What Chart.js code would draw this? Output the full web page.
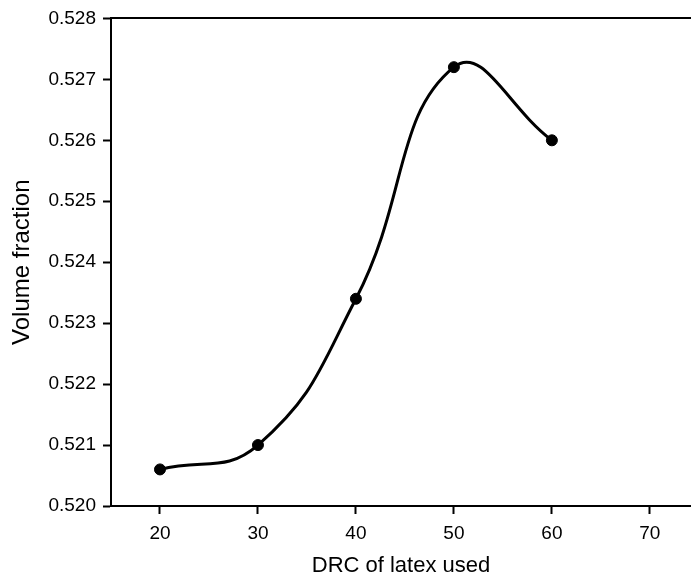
<!DOCTYPE html>
<html><head><meta charset="utf-8">
<script src="https://cdn.jsdelivr.net/npm/chart.js@4/dist/chart.umd.min.js"></script>
<style>html,body{margin:0;padding:0;background:#fff}canvas{display:block}</style>
</head><body>
<canvas id="c" width="691" height="581"></canvas>
<script>
const drc = [20, 30, 40, 50, 60];
const volumeFraction = [0.5206, 0.5210, 0.5234, 0.5272, 0.5260];
const xTickValues = [20, 30, 40, 50, 60, 70];
const yTickValues = [0.520, 0.521, 0.522, 0.523, 0.524, 0.525, 0.526, 0.527, 0.528];

const FONT = '"Liberation Sans", Arial, sans-serif';
const bgPlugin = {id:'bg', beforeDraw(c){const x=c.ctx;x.save();x.fillStyle='#fff';x.fillRect(0,0,c.width,c.height);x.restore();}};

new Chart(document.getElementById('c'), {
  type: 'scatter',
  data: { datasets: [{
    data: drc.map((x, i) => ({x, y: volumeFraction[i]})),
    showLine: true, tension: 0.45,
    borderColor: '#000', borderWidth: 3,
    pointRadius: 5.5, pointBackgroundColor: '#000', pointBorderColor: '#000', pointBorderWidth: 1
  }]},
  options: {
    responsive: false, animation: false,
    layout: { autoPadding: false, padding: { top: 14, left: 0, right: 0, bottom: 0 } },
    plugins: { legend: { display: false }, tooltip: { enabled: false } },
    scales: {
      x: {
        type: 'linear', min: 15, max: 74.2,
        afterBuildTicks: s => { s.ticks = xTickValues.map(v => ({value: v})); },
        afterFit: s => { s.height = 75; },
        grid: { drawOnChartArea: false, drawTicks: true, tickLength: 8, tickWidth: 2, tickColor: '#000' },
        border: { display: true, color: '#000', width: 2 },
        ticks: { color: '#000', font: { family: FONT, size: 19 }, padding: 8, maxRotation: 0 },
        title: { display: true, text: 'DRC of latex used', color: '#000', font: { family: FONT, size: 22 }, padding: { top: 0, bottom: 2 } }
      },
      xTop: {
        type: 'linear', position: 'top', min: 15, max: 74.2,
        afterFit: s => { s.height = 0; },
        grid: { display: false },
        border: { display: true, color: '#000', width: 2 },
        ticks: { display: false }
      },
      y: {
        type: 'linear', min: 0.520, max: 0.528,
        afterBuildTicks: s => { s.ticks = yTickValues.map(v => ({value: v})); },
        afterFit: s => { s.width = 111; },
        grid: { drawOnChartArea: false, drawTicks: true, tickLength: 8, tickWidth: 2, tickColor: '#000' },
        border: { display: true, color: '#000', width: 2 },
        ticks: { color: '#000', font: { family: FONT, size: 19 }, padding: 7, callback: v => Number(v).toFixed(3) },
        title: { display: true, text: 'Volume fraction', color: '#000', font: { family: FONT, size: 24 }, padding: { top: 8, bottom: 0 } }
      }
    }
  },
  plugins: [bgPlugin]
});
</script>
</body></html>
